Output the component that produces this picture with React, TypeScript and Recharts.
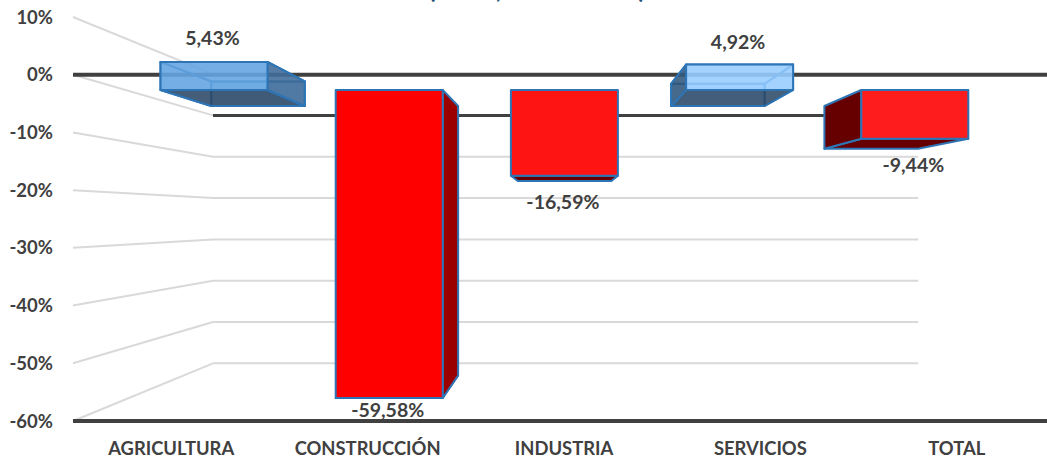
import { Bar, ComposedChart, LabelList, Line, ReferenceLine, XAxis, YAxis } from "recharts";

const categories = ["AGRICULTURA", "CONSTRUCCIÓN", "INDUSTRIA", "SERVICIOS", "TOTAL"];
const values = [5.43, -59.58, -16.59, 4.92, -9.44];
const axisTicks = [-60, -50, -40, -30, -20, -10, 0, 10];
const labelGaps = [24, 11, 26, 23, 26];
const frontFills = ["#64A5E0", "#FF0000", "#FF1414", "#98CCFF", "#FF1C1C"];
const sideFills = ["#3F6A96", "#9B0000", "#660000", "#2F5578", "#660000"];
const bottomFills = ["#2B4763", "#660000", "#660000", "#2B4763", "#660000"];

const chartData = categories.map((name, i) => ({ name, value: values[i] }));

const VANISH_X = 566;
const VANISH_Y = 218;
const BAR_DEPTH = 0.875;
const WALL_DEPTH = 0.716;
const EDGE = "#2E75B6";
const TEXT = "#404040";
const FONT = "Lato, sans-serif";

const pct = (v: number) => `${v.toFixed(2).replace(".", ",")}%`;
const toBack = (x: number, y: number, k: number) => [
  VANISH_X + (x - VANISH_X) * k,
  VANISH_Y + (y - VANISH_Y) * k,
];
const pts = (list: number[][]) => list.map((p) => p.join(",")).join(" ");

function Box3D(props: any) {
  const { x, y, width, height, index, value } = props;
  const top = Math.min(y, y + height);
  const bottom = Math.max(y, y + height);
  const left = x;
  const right = x + width;
  const glass = value > 0;

  const [bl, bt] = toBack(left, top, BAR_DEPTH);
  const [br, bb] = toBack(right, bottom, BAR_DEPTH);
  const faceProps = { stroke: EDGE, strokeWidth: 2, strokeLinejoin: "round" as const };
  const front = frontFills[index];
  const leftFace = [[left, top], [bl, bt], [bl, bb], [left, bottom]];
  const rightFace = [[right, top], [br, bt], [br, bb], [right, bottom]];
  const leftHidden = bl > left;
  const hiddenFace = leftHidden ? leftFace : rightFace;
  const shownFace = leftHidden ? rightFace : leftFace;
  const shownVisible = leftHidden ? br > right : bl < left;

  return (
    <g>
      {glass && (
        <>
          <polygon points={pts([[bl, bt], [br, bt], [br, bb], [bl, bb]])} fill={front} fillOpacity={0.5} {...faceProps} />
          <polygon points={pts([[left, top], [right, top], [br, bt], [bl, bt]])} fill={front} fillOpacity={0.3} {...faceProps} />
          <polygon points={pts(hiddenFace)} fill={front} fillOpacity={0.3} {...faceProps} />
        </>
      )}
      <polygon
        points={pts([[left, bottom], [right, bottom], [br, bb], [bl, bb]])}
        fill={bottomFills[index]}
        fillOpacity={glass ? 0.85 : 1}
        {...faceProps}
      />
      {shownVisible && <polygon points={pts(shownFace)} fill={sideFills[index]} fillOpacity={glass ? 0.85 : 1} {...faceProps} />}
      <rect x={left} y={top} width={width} height={bottom - top} fill={front} fillOpacity={glass ? 0.85 : 1} {...faceProps} />
    </g>
  );
}

function BarLabel(props: any) {
  const { x, y, width, height, value, index } = props;
  const top = Math.min(y, y + height);
  const bottom = Math.max(y, y + height);
  const cy = value > 0 ? top - labelGaps[index] : bottom + labelGaps[index];
  return (
    <text x={x + width / 2 - 1.5} y={cy} textAnchor="middle" dominantBaseline="central" fill={TEXT} fontFamily={FONT} fontWeight={700} fontSize={19.5}>
      {pct(value)}
    </text>
  );
}

// one grid line: from the front axis, back along the side wall, then across the back wall
function WallLine(props: any) {
  const { x1, y1, color, width, reach } = props;
  const [bx, by] = toBack(x1, y1, WALL_DEPTH);
  return (
    <g>
      <line x1={x1} y1={y1} x2={bx} y2={by} stroke="#D9D9D9" strokeWidth={2} />
      <line x1={bx} y1={by} x2={toBack(reach, y1, WALL_DEPTH)[0]} y2={by} stroke={color} strokeWidth={width} />
    </g>
  );
}

export default function App() {
  return (
    <div style={{ position: "absolute", left: 0, top: 0, width: 1047, height: 457, overflow: "hidden", background: "#fff" }}>
      <div
        style={{
          position: "absolute",
          left: 0,
          width: 1074,
          top: -28,
          textAlign: "center",
          color: "#1F4E79",
          fontFamily: FONT,
          fontWeight: 700,
          fontSize: 26,
        }}
      >
        (2019, 2019-2020)
      </div>
      <ComposedChart
        width={1100}
        height={457}
        data={chartData}
        margin={{ top: 17, right: 45, bottom: 0, left: 0 }}
        style={{ position: "absolute", left: 0, top: 0 }}
      >
        <XAxis
          xAxisId="front"
          dataKey="name"
          height={36}
          axisLine={false}
          tickLine={false}
          interval={0}
          tick={{ fill: TEXT, fontFamily: FONT, fontWeight: 700, fontSize: 18.4 }}
          tickMargin={15}
        />
        <XAxis xAxisId="mid" dataKey="name" hide padding={{ left: 53.5, right: 52.5 }} />
        <YAxis
          yAxisId="front"
          orientation="left"
          domain={[-60, 10]}
          ticks={axisTicks}
          axisLine={false}
          tickLine={false}
          tickFormatter={(v) => `${v}%`}
          tick={{ fill: TEXT, fontFamily: FONT, fontWeight: 700, fontSize: 18.5 }}
          width={73}
          tickMargin={14}
        />
        <YAxis yAxisId="mid" hide domain={[-64.02, 14.12]} allowDataOverflow />

        {axisTicks.map((t) => (
          <ReferenceLine
            key={t}
            xAxisId="front"
            yAxisId="front"
            y={t}
            ifOverflow="visible"
            zIndex={-10}
            shape={(p: any) => <WallLine {...p} reach={1058} color={t === 0 ? "#404040" : "#D9D9D9"} width={t === 0 ? 3 : 2} />}
          />
        ))}
        <ReferenceLine xAxisId="front" yAxisId="front" y={0} stroke="#404040" strokeWidth={4} zIndex={-5} />
        <ReferenceLine xAxisId="front" yAxisId="front" y={-60} stroke="#404040" strokeWidth={4} zIndex={-5} />

        <Line xAxisId="front" yAxisId="front" dataKey="value" stroke="none" dot={false} activeDot={false} legendType="none" isAnimationActive={false} />
        <Bar xAxisId="mid" yAxisId="mid" dataKey="value" barSize={107} shape={Box3D} isAnimationActive={false}>
          <LabelList dataKey="value" content={BarLabel} />
        </Bar>
      </ComposedChart>
    </div>
  );
}
